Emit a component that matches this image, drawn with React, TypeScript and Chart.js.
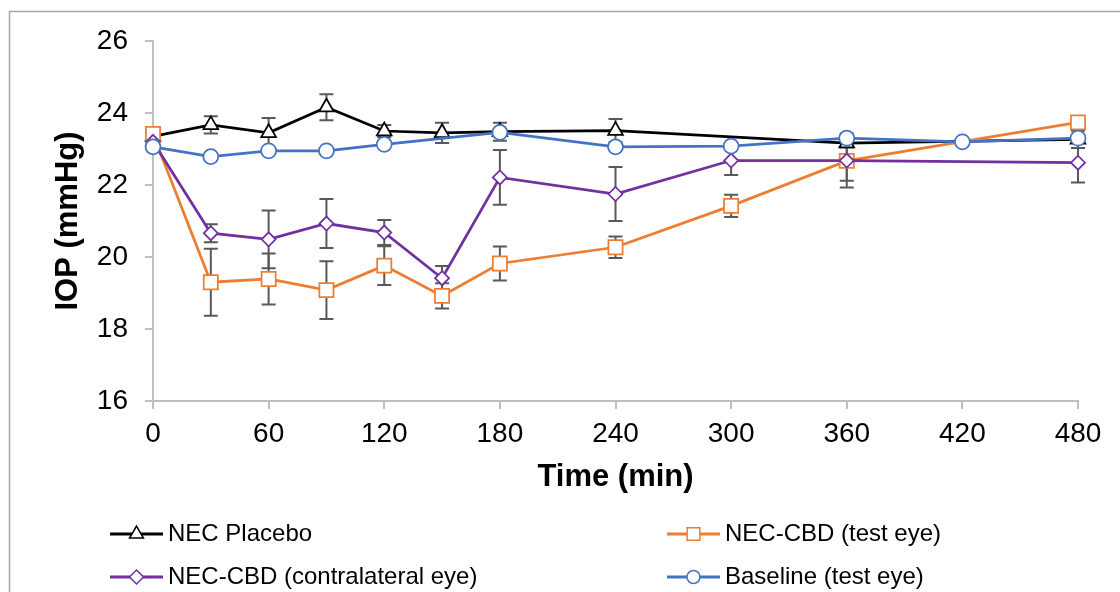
import React, { useEffect, useRef } from "react";
import { Chart, registerables } from "chart.js";

Chart.register(...registerables);

// ---- Data ----
const xTicks = [0, 60, 120, 180, 240, 300, 360, 420, 480];
const yTicks = [16, 18, 20, 22, 24, 26];

const placeboTimes = [0, 30, 60, 90, 120, 150, 180, 240, 360, 480];
const placeboIOP = [23.35, 23.67, 23.45, 24.16, 23.5, 23.45, 23.48, 23.51, 23.16, 23.27];
const placeboSEM = [0.18, 0.24, 0.41, 0.36, 0.17, 0.28, 0.25, 0.32, 0.12, 0.24];

const cbdTestTimes = [0, 30, 60, 90, 120, 150, 180, 240, 300, 360, 480];
const cbdTestIOP = [23.42, 19.3, 19.39, 19.08, 19.76, 18.92, 19.82, 20.27, 21.42, 22.67, 23.74];
const cbdTestSEM = [0.12, 0.93, 0.71, 0.8, 0.54, 0.35, 0.47, 0.3, 0.31, 0.55, 0.12];

const cbdContraTimes = [0, 30, 60, 90, 120, 150, 180, 240, 300, 360, 480];
const cbdContraIOP = [23.2, 20.66, 20.49, 20.93, 20.68, 19.41, 22.21, 21.75, 22.68, 22.68, 22.62];
const cbdContraSEM = [0.15, 0.25, 0.8, 0.68, 0.35, 0.34, 0.76, 0.75, 0.4, 0.75, 0.55];

const baselineTimes = [0, 30, 60, 90, 120, 180, 240, 300, 360, 420, 480];
const baselineIOP = [23.06, 22.79, 22.95, 22.95, 23.13, 23.46, 23.06, 23.08, 23.3, 23.2, 23.3];

const seriesLabels = [
  "NEC Placebo",
  "NEC-CBD (test eye)",
  "NEC-CBD (contralateral eye)",
  "Baseline (test eye)",
];
const seriesColors = ["#000000", "#ED7D31", "#7030A0", "#4472C4"];
const seriesStyles = ["triangle", "rect", "rectRot", "circle"];

const FONT = '"Liberation Sans", Arial, Helvetica, sans-serif';
const ERR_COLOR = "#595959";
const AXIS_COLOR = "#bfbfbf";

function toPoints(times: number[], vals: number[]) {
  return times.map((t, i) => ({ x: t, y: vals[i] }));
}

function drawMarker(
  ctx: CanvasRenderingContext2D,
  style: string,
  x: number,
  y: number,
  r: number,
  color: string,
  lw: number
) {
  ctx.save();
  ctx.beginPath();
  if (style === "triangle") {
    for (let k = 0; k < 3; k++) {
      const a = (k * 2 * Math.PI) / 3;
      const px = x + Math.sin(a) * r;
      const py = y - Math.cos(a) * r;
      if (k === 0) ctx.moveTo(px, py);
      else ctx.lineTo(px, py);
    }
    ctx.closePath();
  } else if (style === "rect") {
    const s = r * Math.SQRT1_2;
    ctx.rect(x - s, y - s, 2 * s, 2 * s);
  } else if (style === "rectRot") {
    ctx.moveTo(x, y - r);
    ctx.lineTo(x + r, y);
    ctx.lineTo(x, y + r);
    ctx.lineTo(x - r, y);
    ctx.closePath();
  } else {
    ctx.arc(x, y, r, 0, Math.PI * 2);
  }
  ctx.fillStyle = "#ffffff";
  ctx.fill();
  ctx.lineWidth = lw;
  ctx.strokeStyle = color;
  ctx.stroke();
  ctx.restore();
}

const errorSets: (number[] | null)[] = [placeboSEM, cbdTestSEM, cbdContraSEM, null];

const errorBarPlugin = {
  id: "errorBars",
  beforeDatasetsDraw(chart: any) {
    const ctx: CanvasRenderingContext2D = chart.ctx;
    const xs = chart.scales.x;
    const ys = chart.scales.y;
    ctx.save();
    ctx.strokeStyle = ERR_COLOR;
    ctx.lineWidth = 2;
    chart.data.datasets.forEach((ds: any, di: number) => {
      const errs = errorSets[di];
      if (!errs) return;
      ds.data.forEach((p: any, i: number) => {
        const e = errs[i];
        const px = xs.getPixelForValue(p.x);
        const top = ys.getPixelForValue(p.y + e);
        const bot = ys.getPixelForValue(p.y - e);
        ctx.beginPath();
        ctx.moveTo(px, top);
        ctx.lineTo(px, bot);
        ctx.moveTo(px - 7, top);
        ctx.lineTo(px + 7, top);
        ctx.moveTo(px - 7, bot);
        ctx.lineTo(px + 7, bot);
        ctx.stroke();
      });
    });
    ctx.restore();
  },
};

const frameAndLegendPlugin = {
  id: "frameAndLegend",
  beforeDraw(chart: any) {
    const ctx: CanvasRenderingContext2D = chart.ctx;
    ctx.save();
    ctx.fillStyle = "#ffffff";
    ctx.fillRect(0, 0, chart.width, chart.height);
    ctx.strokeStyle = "#a6a6a6";
    ctx.lineWidth = 1.5;
    ctx.strokeRect(9.5, 11.5, chart.width + 20, chart.height + 20);
    ctx.restore();
  },
  afterDraw(chart: any) {
    const ctx: CanvasRenderingContext2D = chart.ctx;
    const slots = [
      { x: 110, y: 534 },
      { x: 667, y: 534 },
      { x: 110, y: 577 },
      { x: 667, y: 577 },
    ];
    const legendRadii = [8, 9, 7, 6.5];
    ctx.save();
    seriesLabels.forEach((label, i) => {
      const { x, y } = slots[i];
      ctx.beginPath();
      ctx.strokeStyle = seriesColors[i];
      ctx.lineWidth = 3;
      ctx.moveTo(x, y);
      ctx.lineTo(x + 53, y);
      ctx.stroke();
      drawMarker(ctx, seriesStyles[i], x + 26.5, y, legendRadii[i], seriesColors[i], 1.5);
      ctx.fillStyle = "#000000";
      ctx.font = `24px ${FONT}`;
      ctx.textAlign = "left";
      ctx.textBaseline = "middle";
      ctx.fillText(label, x + 58, y);
    });
    ctx.restore();
  },
};

export default function App() {
  const canvasRef = useRef<HTMLCanvasElement | null>(null);

  useEffect(() => {
    const canvas = canvasRef.current;
    if (!canvas) return;
    const mk = (i: number, data: any[], radius: number, order: number) => ({
      label: seriesLabels[i],
      data,
      borderColor: seriesColors[i],
      borderWidth: 2.75,
      pointStyle: seriesStyles[i],
      pointRadius: radius,
      pointBorderWidth: 1.75,
      pointBorderColor: seriesColors[i],
      pointBackgroundColor: "#ffffff",
      tension: 0,
      fill: false,
      clip: false,
      order,
    });
    const chart = new Chart(canvas, {
      type: "line",
      data: {
        datasets: [
          mk(0, toPoints(placeboTimes, placeboIOP), 8.5, 3),
          mk(1, toPoints(cbdTestTimes, cbdTestIOP), 10, 2),
          mk(2, toPoints(cbdContraTimes, cbdContraIOP), 7, 1),
          mk(3, toPoints(baselineTimes, baselineIOP), 7.5, 0),
        ],
      },
      options: {
        animation: false,
        responsive: false,
        devicePixelRatio: 1,
        layout: { padding: { left: 0, top: 41, right: 42, bottom: 0 } },
        plugins: {
          legend: { display: false },
          tooltip: { enabled: false },
        },
        scales: {
          x: {
            type: "linear",
            min: 0,
            max: 480,
            afterBuildTicks: (scale: any) => {
              scale.ticks = xTicks.map((v) => ({ value: v }));
            },
            afterFit: (scale: any) => {
              scale.height = 191;
            },
            ticks: {
              font: { size: 28, family: FONT },
              color: "#000000",
              padding: 8,
              maxRotation: 0,
              autoSkip: false,
            },
            grid: {
              drawOnChartArea: false,
              drawTicks: true,
              tickLength: 8,
              color: AXIS_COLOR,
              lineWidth: 2,
            },
            border: { display: true, color: AXIS_COLOR, width: 2 },
            title: {
              display: true,
              text: "Time (min)",
              font: { size: 31, weight: "bold", family: FONT },
              color: "#000000",
              padding: { top: 0, bottom: 96 },
            },
          },
          y: {
            type: "linear",
            min: 16,
            max: 26,
            afterBuildTicks: (scale: any) => {
              scale.ticks = yTicks.map((v) => ({ value: v }));
            },
            afterFit: (scale: any) => {
              scale.width = 153;
            },
            ticks: {
              font: { size: 28, family: FONT },
              color: "#000000",
              padding: 17,
            },
            grid: {
              drawOnChartArea: false,
              drawTicks: true,
              tickLength: 8,
              color: AXIS_COLOR,
              lineWidth: 2,
            },
            border: { display: true, color: AXIS_COLOR, width: 2 },
            title: {
              display: true,
              text: "IOP (mmHg)",
              font: { size: 31, weight: "bold", family: FONT },
              color: "#000000",
              padding: { top: 50, bottom: 0 },
            },
          },
        },
      } as any,
      plugins: [errorBarPlugin, frameAndLegendPlugin],
    });
    return () => chart.destroy();
  }, []);

  return (
    <div
      style={{
        position: "fixed",
        left: 0,
        top: 0,
        width: 1120,
        height: 592,
        overflow: "hidden",
        background: "#ffffff",
      }}
    >
      <canvas ref={canvasRef} width={1120} height={592} style={{ display: "block" }} />
    </div>
  );
}
